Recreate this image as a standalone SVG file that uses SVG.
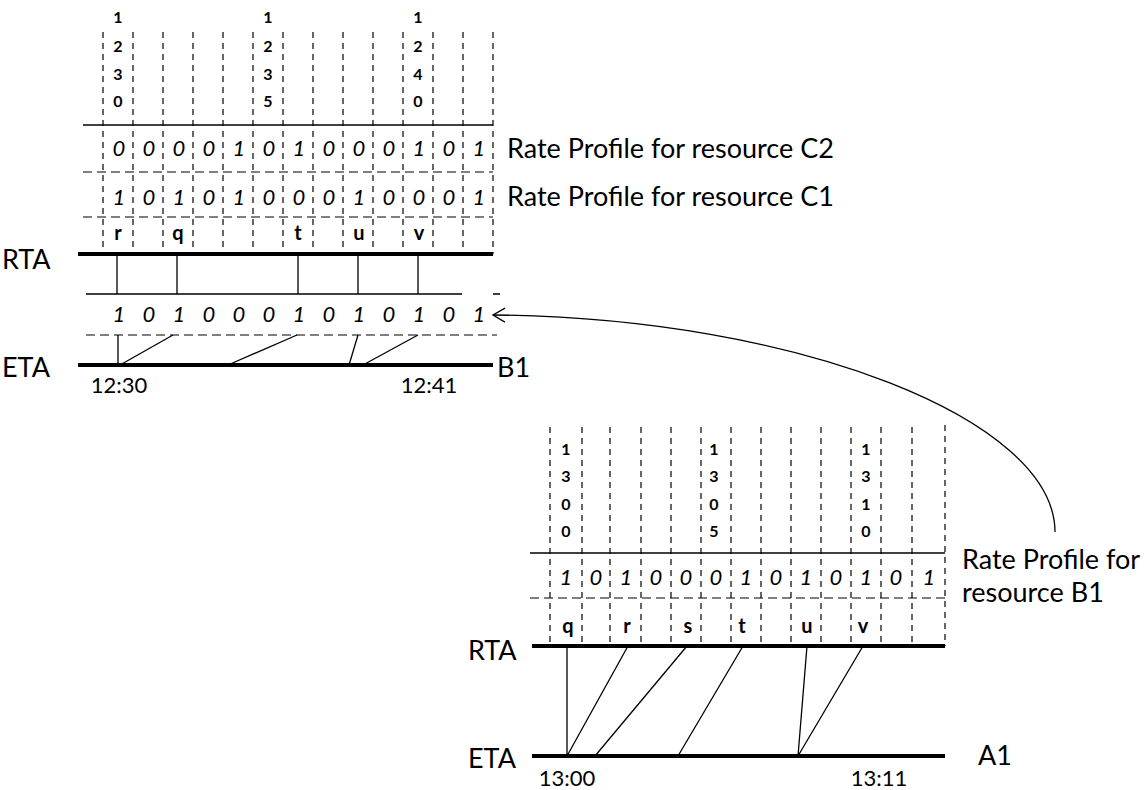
<svg xmlns="http://www.w3.org/2000/svg" width="1148" height="790" viewBox="0 0 1148 790">
<defs>
<style>
.thick{stroke:#000;stroke-width:4;fill:none}
.thin{stroke:#000;stroke-width:1.3;fill:none}
.dv{stroke:#000;stroke-width:1.2;stroke-dasharray:6 5;fill:none}
.dh{stroke:#000;stroke-width:1.2;stroke-dasharray:9 5;fill:none}
.lbl{font-family:Lato,"Liberation Sans",sans-serif;font-size:27px;fill:#000}
.tm{font-family:Lato,"Liberation Sans",sans-serif;font-size:22px;fill:#000;text-anchor:middle}
.col{font-family:Lato,"Liberation Sans",sans-serif;font-size:16px;font-weight:bold;fill:#000;text-anchor:middle}
.bit{font-family:Lato,"Liberation Sans",sans-serif;font-size:22px;font-style:italic;fill:#000;text-anchor:middle}
.let{font-family:Lato,"Liberation Sans",sans-serif;font-size:20px;font-weight:bold;fill:#000;text-anchor:middle}
</style>
<marker id="open" markerUnits="userSpaceOnUse" markerWidth="16" markerHeight="16" refX="0" refY="0" viewBox="-14 -8 16 16" orient="auto">
<path d="M-12,-7 L0,0 L-12,7" fill="none" stroke="#000" stroke-width="1.3"/>
</marker>
</defs>
<rect width="1148" height="790" fill="#fff"/>

<g id="top-chart">
<g id="top-grid">
<path class="dv" d="M103,32V254M133,32V254M163,32V254M193,32V254M223,32V254M253,32V254M283,32V254M313,32V254M343,32V254M373,32V254M403,32V254M433,32V254M463,32V254M493,32V254"/>
<path class="thin" d="M83,125H493" stroke-width="1.5"/>
<path class="dh" d="M83,172H493M83,217H493"/>
<path class="thick" d="M78,254H493"/>
<path class="thin" d="M86,294H462M493,294H500"/>
<path class="dh" d="M86,335H497"/>
<path class="thick" d="M78,365H493"/>
</g>
<g id="top-times">
<text class="col" x="118" y="23">1</text><text class="col" x="118" y="52">2</text><text class="col" x="118" y="80">3</text><text class="col" x="118" y="107">0</text>
<text class="col" x="268" y="23">1</text><text class="col" x="268" y="52">2</text><text class="col" x="268" y="80">3</text><text class="col" x="268" y="107">5</text>
<text class="col" x="418" y="23">1</text><text class="col" x="418" y="52">2</text><text class="col" x="418" y="80">4</text><text class="col" x="418" y="107">0</text>
</g>
<g id="row-c2">
<text class="bit" y="156"><tspan x="119">0</tspan><tspan x="149">0</tspan><tspan x="179">0</tspan><tspan x="209">0</tspan><tspan x="239">1</tspan><tspan x="269">0</tspan><tspan x="299">1</tspan><tspan x="329">0</tspan><tspan x="359">0</tspan><tspan x="389">0</tspan><tspan x="419">1</tspan><tspan x="449">0</tspan><tspan x="479">1</tspan></text>
<text class="lbl" x="507" y="158">Rate Profile for resource C2</text>
</g>
<g id="row-c1">
<text class="bit" y="205"><tspan x="119">1</tspan><tspan x="149">0</tspan><tspan x="179">1</tspan><tspan x="209">0</tspan><tspan x="239">1</tspan><tspan x="269">0</tspan><tspan x="299">0</tspan><tspan x="329">0</tspan><tspan x="359">1</tspan><tspan x="389">0</tspan><tspan x="419">0</tspan><tspan x="449">0</tspan><tspan x="479">1</tspan></text>
<text class="lbl" x="507" y="206">Rate Profile for resource C1</text>
</g>
<g id="top-letters">
<text class="let" x="118" y="240">r</text><text class="let" x="178" y="240">q</text><text class="let" x="298" y="240">t</text><text class="let" x="359" y="240">u</text><text class="let" x="419" y="240">v</text>
</g>
<g id="row-b1">
<text class="bit" y="322"><tspan x="119">1</tspan><tspan x="149">0</tspan><tspan x="179">1</tspan><tspan x="209">0</tspan><tspan x="239">0</tspan><tspan x="269">0</tspan><tspan x="299">1</tspan><tspan x="329">0</tspan><tspan x="359">1</tspan><tspan x="389">0</tspan><tspan x="419">1</tspan><tspan x="449">0</tspan><tspan x="479">1</tspan></text>
</g>
<g id="top-labels">
<text class="lbl" x="2" y="269">RTA</text>
<text class="lbl" x="2" y="377">ETA</text>
<text class="lbl" x="497" y="377">B1</text>
<text class="tm" x="119" y="393">12:30</text>
<text class="tm" x="429" y="393">12:41</text>
</g>
</g>

<g id="bottom-chart">
<g id="bottom-grid">
<path class="dv" d="M550,427V646M582,427V646M610,427V646M641,427V646M671,427V646M701,427V646M731,427V646M761,427V646M791,427V646M821,427V646M851,427V646M881,427V646M912,427V646M945,425V646"/>
<path class="thin" d="M530,553H945" stroke-width="1.5"/>
<path class="dh" d="M530,598H945"/>
<path class="thick" d="M532,646H945"/>
<path class="thick" d="M532,756H945"/>
</g>
<g id="bottom-times">
<text class="col" x="566" y="455">1</text><text class="col" x="566" y="482">3</text><text class="col" x="566" y="510">0</text><text class="col" x="566" y="537">0</text>
<text class="col" x="714" y="455">1</text><text class="col" x="714" y="482">3</text><text class="col" x="714" y="510">0</text><text class="col" x="714" y="537">5</text>
<text class="col" x="866" y="455">1</text><text class="col" x="866" y="482">3</text><text class="col" x="866" y="510">1</text><text class="col" x="866" y="537">0</text>
</g>
<g id="row-b1-profile">
<text class="bit" y="585"><tspan x="566">1</tspan><tspan x="596">0</tspan><tspan x="626">1</tspan><tspan x="656">0</tspan><tspan x="686">0</tspan><tspan x="716">0</tspan><tspan x="746">1</tspan><tspan x="776">0</tspan><tspan x="806">1</tspan><tspan x="836">0</tspan><tspan x="866">1</tspan><tspan x="896">0</tspan><tspan x="929">1</tspan></text>
<text class="lbl" x="962" y="569">Rate Profile for</text>
<text class="lbl" x="962" y="602">resource B1</text>
</g>
<g id="bottom-letters">
<text class="let" x="568" y="633">q</text><text class="let" x="627" y="633">r</text><text class="let" x="688" y="633">s</text><text class="let" x="742" y="633">t</text><text class="let" x="807" y="633">u</text><text class="let" x="863" y="633">v</text>
</g>
<g id="bottom-labels">
<text class="lbl" x="468" y="660">RTA</text>
<text class="lbl" x="468" y="768">ETA</text>
<text class="lbl" x="978" y="765">A1</text>
<text class="tm" x="567" y="786">13:00</text>
<text class="tm" x="879" y="786">13:11</text>
</g>
</g>

<g id="connectors">
<path class="thin" d="M117,254V294M177,254V294M298,254V294M358,254V294M418,254V294"/>
<path class="thin" d="M118,335V365M173,335L120,365M297,335L228,365M358,335L349,365M418,335L363,365"/>
<path class="thin" d="M567,646V756M628,646L567,756M687,646L595,756M743,646L678,756M807,646L798,756M863,646L798,756"/>
<path class="thin" d="M1055,532C1055,420 800,318 493,315" marker-end="url(#open)"/>
</g>
</svg>
